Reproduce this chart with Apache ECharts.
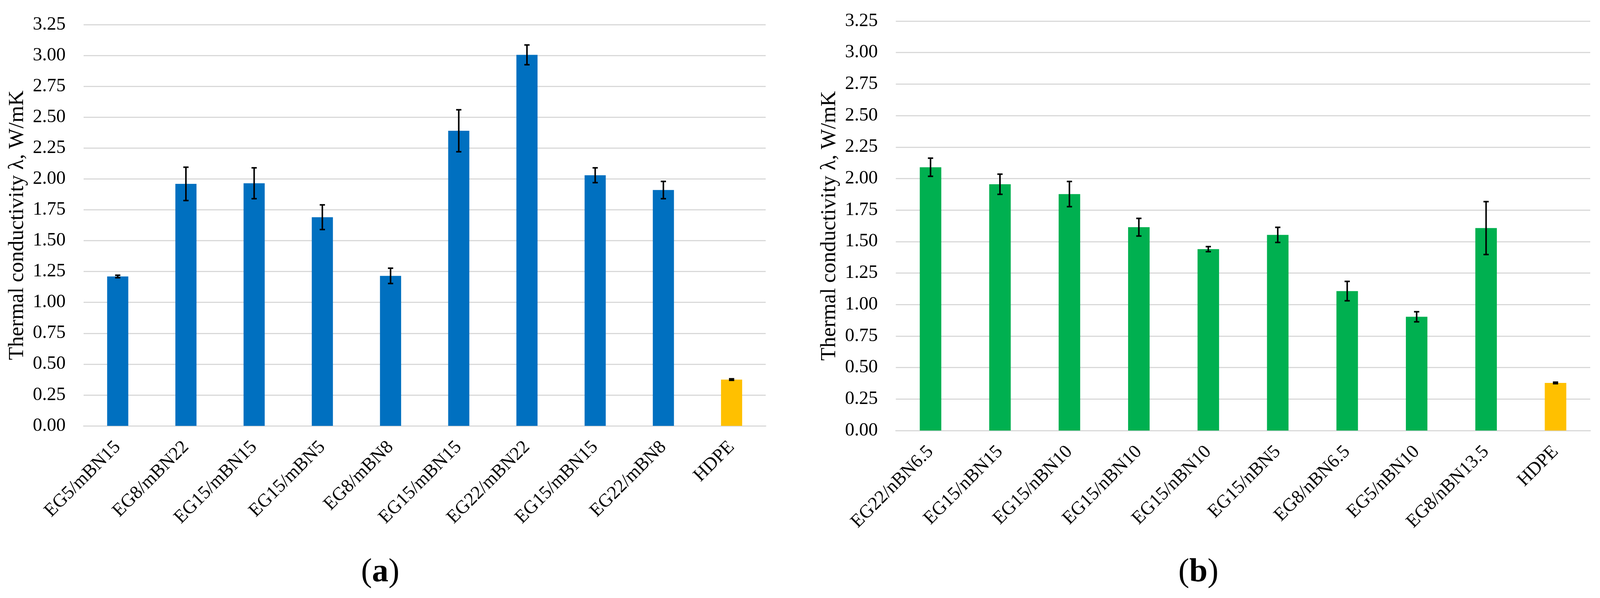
<!DOCTYPE html>
<html>
<head>
<meta charset="utf-8">
<script src="https://cdn.jsdelivr.net/npm/echarts@6/dist/echarts.min.js"></script>
<style>
html,body{margin:0;padding:0;background:#fff;overflow:hidden;}
#c{width:100vw;height:100vh;}
</style>
</head>
<body>
<div id="c"></div>
<script>
// ---- data ----
const catsA = ['EG5/mBN15','EG8/mBN22','EG15/mBN15','EG15/mBN5','EG8/mBN8','EG15/mBN15','EG22/mBN22','EG15/mBN15','EG22/mBN8','HDPE'];
const valsA = [1.21, 1.96, 1.965, 1.69, 1.215, 2.39, 3.005, 2.03, 1.91, 0.375];
const errsA = [0.01, 0.135, 0.125, 0.10, 0.062, 0.17, 0.08, 0.06, 0.07, 0.006];

const catsB = ['EG22/nBN6.5','EG15/nBN15','EG15/nBN10','EG15/nBN10','EG15/nBN10','EG15/nBN5','EG8/nBN6.5','EG5/nBN10','EG8/nBN13.5','HDPE'];
const valsB = [2.09, 1.955, 1.877, 1.614, 1.44, 1.553, 1.107, 0.903, 1.607, 0.378];
const errsB = [0.072, 0.08, 0.10, 0.07, 0.02, 0.06, 0.077, 0.04, 0.21, 0.006];

const yTickStep = 0.25, yMin = 0, yMax = 3.25;
const yAxisTitle = 'Thermal conductivity \u03bb, W/mK';
const panelLabels = ['a', 'b'];

// ---- layout (designed for 4267 x 1532, scaled to the real viewport) ----
const el = document.getElementById('c');
const W = el.clientWidth || window.innerWidth, H = el.clientHeight || window.innerHeight;
const sx = W / 4267, sy = H / 1532, sf = Math.sqrt(sx * sy);
const X = v => v * sx, Y = v => v * sy, F = v => v * sf;

const FONT = '"Liberation Serif", "Times New Roman", serif';
const BLUE = '#0070C0', GREEN = '#00B050', YELLOW = '#FFC000', GRID = '#D9D9D9';

function barData(cats, vals, color) {
  return vals.map((v, i) => ({ value: v, itemStyle: { color: cats[i] === 'HDPE' ? YELLOW : color } }));
}
function errData(vals, errs) {
  return vals.map((v, i) => [i, v, errs[i]]);
}
function renderErr(params, api) {
  const i = api.value(0), v = api.value(1), e = api.value(2);
  const t = api.coord([i, v + e]);
  const b = api.coord([i, v - e]);
  const hw = X(7);
  const st = { stroke: '#000', lineWidth: F(4) };
  return {
    type: 'group',
    children: [
      { type: 'line', shape: { x1: t[0], y1: t[1], x2: b[0], y2: b[1] }, style: st },
      { type: 'line', shape: { x1: t[0] - hw, y1: t[1], x2: t[0] + hw, y2: t[1] }, style: st },
      { type: 'line', shape: { x1: b[0] - hw, y1: b[1], x2: b[0] + hw, y2: b[1] }, style: st }
    ]
  };
}
function xAxisCfg(gi, cats) {
  return {
    type: 'category', gridIndex: gi, data: cats,
    axisLine: { show: true, lineStyle: { color: GRID, width: F(3) } },
    axisTick: { show: false },
    axisLabel: { rotate: 45, interval: 0, margin: F(48), color: '#000', fontFamily: FONT, fontSize: F(49) }
  };
}
function yAxisCfg(gi) {
  return {
    type: 'value', gridIndex: gi, min: yMin, max: yMax, interval: yTickStep,
    name: yAxisTitle, nameLocation: 'middle', nameGap: X(148),
    nameTextStyle: { color: '#000', fontFamily: FONT, fontSize: F(56) },
    axisLine: { show: false }, axisTick: { show: false },
    axisLabel: { color: '#000', fontFamily: FONT, fontSize: F(49), margin: X(48), formatter: v => v.toFixed(2) },
    splitLine: { lineStyle: { color: GRID, width: F(3) } }
  };
}

const chart = echarts.init(el, null, { renderer: 'canvas' });
chart.setOption({
  backgroundColor: '#fff',
  animation: false,
  grid: [
    { left: X(223), right: X(4267 - 2042), top: Y(63), bottom: Y(1532 - 1091) },
    { left: X(2389), right: X(4267 - 4241), top: Y(54), bottom: Y(1532 - 1103) }
  ],
  xAxis: [xAxisCfg(0, catsA), xAxisCfg(1, catsB)],
  yAxis: [yAxisCfg(0), yAxisCfg(1)],
  series: [
    { type: 'bar', xAxisIndex: 0, yAxisIndex: 0, barWidth: '31%', data: barData(catsA, valsA, BLUE) },
    { type: 'custom', xAxisIndex: 0, yAxisIndex: 0, renderItem: renderErr, encode: { x: 0, y: 1 }, data: errData(valsA, errsA), z: 5 },
    { type: 'bar', xAxisIndex: 1, yAxisIndex: 1, barWidth: '31%', data: barData(catsB, valsB, GREEN) },
    { type: 'custom', xAxisIndex: 1, yAxisIndex: 1, renderItem: renderErr, encode: { x: 0, y: 1 }, data: errData(valsB, errsB), z: 5 }
  ],
  graphic: panelLabels.map((p, k) => ({
    type: 'text',
    x: X(k === 0 ? 1014 : 3196),
    y: Y(1425),
    style: {
      text: '{p|(}{b|' + p + '}{p|)}',
      align: 'center',
      verticalAlign: 'top',
      rich: {
        p: { fontFamily: FONT, fontSize: F(86), fill: '#000', color: '#000' },
        b: { fontFamily: FONT, fontSize: F(86), fontWeight: 'bold', fill: '#000', color: '#000' }
      }
    }
  }))
});
window.addEventListener('resize', () => chart.resize());
</script>
</body>
</html>
